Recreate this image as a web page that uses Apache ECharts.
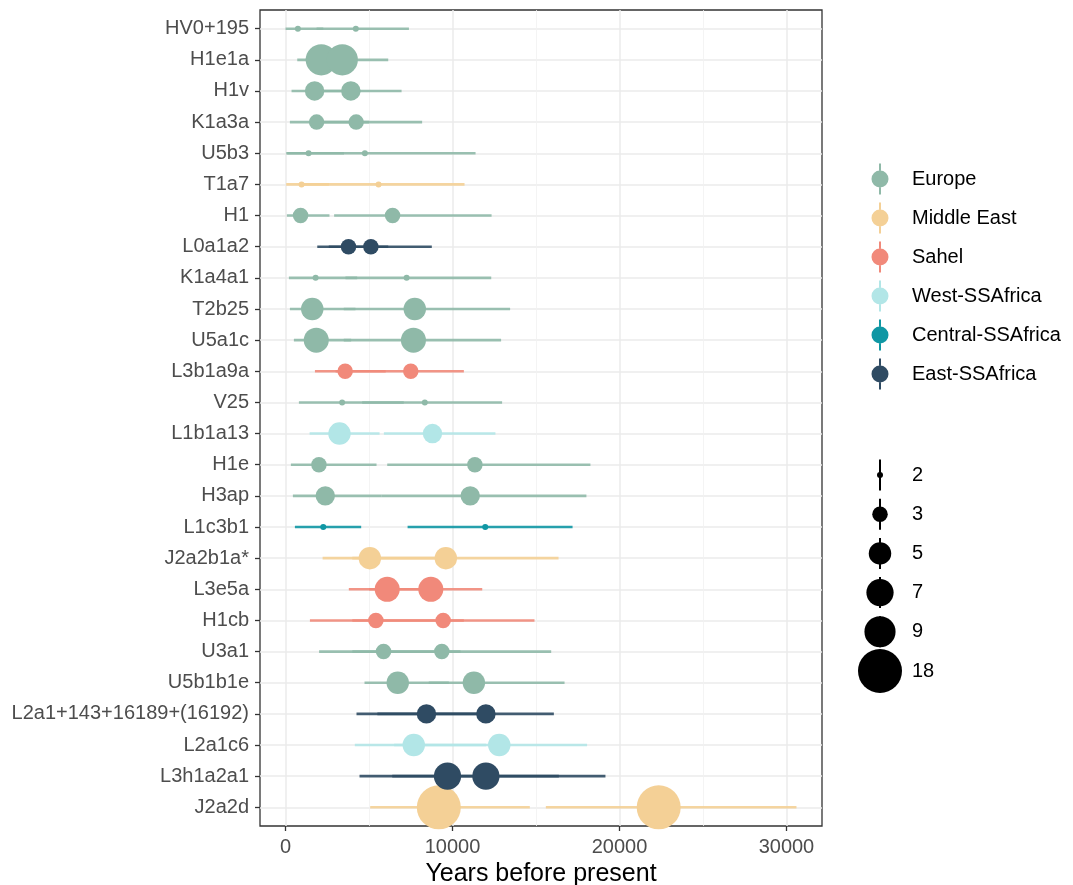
<!DOCTYPE html>
<html>
<head>
<meta charset="utf-8">
<script src="https://cdn.jsdelivr.net/npm/echarts@6/dist/echarts.min.js"></script>
<style>html,body{margin:0;padding:0;background:#fff}#c{width:1073px;height:885px}</style>
</head>
<body>
<div id="c"></div>
<script>
const categories = ['HV0+195','H1e1a','H1v','K1a3a','U5b3','T1a7','H1','L0a1a2','K1a4a1','T2b25','U5a1c','L3b1a9a','V25','L1b1a13','H1e','H3ap','L1c3b1','J2a2b1a*','L3e5a','H1cb','U3a1','U5b1b1e','L2a1+143+16189+(16192)','L2a1c6','L3h1a2a1','J2a2d'];
const regions = ['Europe','Middle East','Sahel','West-SSAfrica','Central-SSAfrica','East-SSAfrica'];
const regionColors = ['#8FB9A8','#F4D096','#F1897A','#B2E6E7','#0F97A4','#2F4B63'];
const regionOfRow = [0,0,0,0,0,1,0,5,0,0,0,2,0,3,0,0,4,1,2,2,0,0,5,3,5,1];
const est1 = [740,2140,1740,1860,1380,960,900,3770,1800,1600,1840,3570,3390,3230,2000,2380,2260,5050,6090,5410,5870,6720,8440,7680,9700,9180];
const n1   = [2,9,4,3,2,2,3,3,2,5,6,3,2,5,3,4,2,5,6,3,3,5,4,5,7,18];
const lo1  = [0,700,360,260,40,40,80,1900,200,260,500,1760,800,1440,320,440,560,2220,3790,1460,2010,4730,4250,4150,4430,5070];
const hi1  = [2260,4000,4500,5000,3500,2600,2630,6150,4290,4190,3930,6000,7080,5630,5450,5730,4530,9000,9000,10680,10480,9780,12500,12000,16370,14630];
const est2 = [4210,3400,3910,4230,4750,5570,6410,5110,7250,7740,7660,7500,8340,8800,11340,11060,11960,9600,8700,9440,9360,11280,12000,12800,12000,22350];
const n2   = [2,9,4,3,2,2,3,3,2,5,6,3,2,4,3,4,2,5,6,3,3,5,4,5,7,18];
const lo2  = [1860,1200,1500,1500,100,1000,2910,2590,3590,3490,3490,3000,4590,5890,6090,5730,7310,4000,5000,4000,4000,8580,5500,6500,6390,15590];
const hi2  = [7390,6150,6950,8180,11380,10720,12340,8760,12320,13450,12910,10680,12970,12570,18260,18020,17190,16350,11780,14910,15910,16710,16070,18060,19160,30600];
const xTicks = [0,10000,20000,30000];
const xMinorTicks = [5000,15000,25000];
const sizeBreaks = [2,3,5,7,9,18];

const FONT = "'Liberation Sans', Arial, Helvetica, sans-serif";
const sizeFn = n => 6 + 38 * Math.sqrt((n - 2) / 16);
const rowIdx = categories.map((_, i) => i);

const barData = [];
rowIdx.forEach(i => {
  barData.push([lo1[i], hi1[i], i, regionOfRow[i]]);
  barData.push([lo2[i], hi2[i], i, regionOfRow[i]]);
});

const pointSeries = regions.map((name, r) => {
  const data = [];
  rowIdx.forEach(i => {
    if (regionOfRow[i] === r) {
      data.push([est1[i], i, n1[i]]);
      data.push([est2[i], i, n2[i]]);
    }
  });
  return {
    name, type: 'scatter', z: 3, data,
    symbolSize: v => sizeFn(v[2]),
    itemStyle: { color: regionColors[r], opacity: 1 },
    emphasis: { disabled: true }, animation: false
  };
});

const legendIcon = 'path://M0,0M36,31M8,0H10V7H8ZM8,24H10V31H8ZM17.5,15.5A8.5,8.5,0,1,1,0.5,15.5A8.5,8.5,0,1,1,17.5,15.5Z';

const sizeLegendGraphics = [];
sizeBreaks.forEach((b, k) => {
  const cy = 475 + k * 39.2;
  const d = sizeFn(b);
  sizeLegendGraphics.push({ type: 'rect', shape: { x: 879, y: cy - 15.5, width: 2, height: 31 }, style: { fill: '#000' } });
  sizeLegendGraphics.push({ type: 'circle', shape: { cx: 880, cy, r: d / 2 }, style: { fill: '#000' } });
  sizeLegendGraphics.push({ type: 'text', x: 912, y: cy, style: { text: String(b), font: '20px ' + FONT, fill: '#000', verticalAlign: 'middle', align: 'left' } });
});

const chart = echarts.init(document.getElementById('c'), null, { renderer: 'canvas' });
chart.setOption({
  animation: false,
  backgroundColor: '#fff',
  textStyle: { fontFamily: FONT },
  grid: { left: 260, right: 251, top: 10, bottom: 59, show: true, borderColor: '#333333', borderWidth: 1.3, backgroundColor: 'transparent', containLabel: false, outerBoundsMode: 'none' },
  legend: {
    data: regions, orient: 'vertical', left: 866, top: 158.5,
    itemWidth: 36, itemHeight: 31, itemGap: 8, icon: legendIcon,
    textStyle: { fontSize: 20, color: '#000', fontFamily: FONT },
    selectedMode: false
  },
  xAxis: [{
    type: 'value', min: -1530, max: 32130, position: 'bottom',
    axisLine: { show: false, onZero: false },
    axisTick: { show: true, length: 5, customValues: xTicks, lineStyle: { color: '#333333', width: 1.3 } },
    axisLabel: { show: true, customValues: xTicks, formatter: v => String(v), color: '#4D4D4D', fontSize: 20, margin: 11, fontFamily: FONT },
    splitLine: { show: true, lineStyle: { color: '#EBEBEB', width: 1.5 } },
    name: 'Years before present', nameLocation: 'middle', nameGap: 34,
    nameTextStyle: { fontSize: 25, color: '#000', fontFamily: FONT }
  }, {
    type: 'value', min: -1530, max: 32130, position: 'top',
    axisLine: { show: false, onZero: false },
    axisTick: { show: false, customValues: xMinorTicks },
    axisLabel: { show: false },
    splitLine: { show: true, lineStyle: { color: '#F1F1F1', width: 0.8 } }
  }],
  yAxis: {
    type: 'value', min: -0.6, max: 25.6, inverse: true, position: 'left',
    axisLine: { show: false, onZero: false },
    axisTick: { show: true, length: 5, customValues: rowIdx, lineStyle: { color: '#333333', width: 1.3 } },
    axisLabel: { show: true, customValues: rowIdx, formatter: v => categories[Math.round(v)], color: '#4D4D4D', fontSize: 20, margin: 11, fontFamily: FONT },
    splitLine: { show: true, lineStyle: { color: '#EBEBEB', width: 1.5 } }
  },
  graphic: sizeLegendGraphics,
  series: [{
    name: 'bars', type: 'custom', z: 2, data: barData,
    encode: { x: [0, 1], y: 2 },
    renderItem: (params, api) => {
      const y = api.value(2);
      const p1 = api.coord([api.value(0), y]);
      const p2 = api.coord([api.value(1), y]);
      return { type: 'line', shape: { x1: p1[0], y1: p1[1], x2: p2[0], y2: p2[1] },
        style: { stroke: regionColors[api.value(3)], lineWidth: 2.6, opacity: 0.9 } };
    },
    silent: true
  }].concat(pointSeries)
});
</script>
</body>
</html>
